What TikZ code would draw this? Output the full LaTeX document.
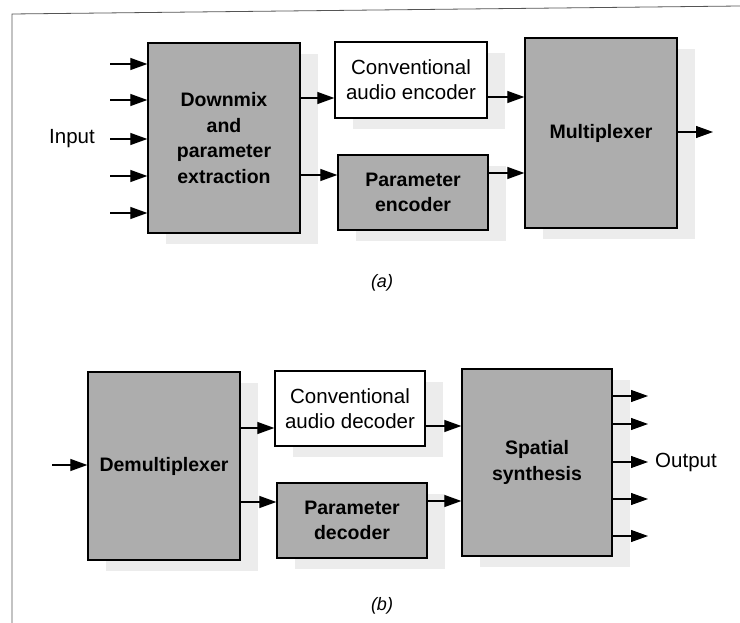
\documentclass[tikz,border=0pt]{standalone}
\usepackage{fontspec}
\setmainfont{Liberation Sans}
\usetikzlibrary{arrows.meta,shadows}
\definecolor{boxgray}{HTML}{ADADAD}
\definecolor{shadegray}{HTML}{ECECEC}
\definecolor{framegray}{HTML}{555555}
\tikzset{
  x=1pt, y=-1pt,
  blockbase/.style={draw=black, line width=1.3pt, rectangle, align=center, inner sep=2pt,
    font=\fontsize{20.5}{25}\selectfont,
    drop shadow={shadow xshift=18pt, shadow yshift=-11pt, fill=shadegray, opacity=1}},
  grayblock/.style={blockbase, fill=boxgray, font=\fontsize{19.5}{25.5}\selectfont\bfseries},
  whiteblock/.style={blockbase, fill=white},
  arr/.style={line width=1.1pt, -{Triangle[length=17pt,width=12pt]}},
  lbl/.style={font=\fontsize{20.5}{25}\selectfont, inner sep=0pt},
  captext/.style={font=\fontsize{18}{20}\selectfont\itshape, inner sep=0pt}
}
\begin{document}
\begin{tikzpicture}
\useasboundingbox (0,0) rectangle (740,623);
% outer frame (left and top edges)
\draw[framegray, line width=0.8pt] (12,623) -- (12,14) -- (740,6);

% ---------------- (a) encoder ----------------
\node[grayblock, minimum width=152pt, minimum height=190pt] (dmx) at (224,138)
  {Downmix\\and\\parameter\\extraction};
\node[whiteblock, minimum width=152pt, minimum height=76pt] (cenc) at (411,80)
  {Conventional\\audio encoder};
\node[grayblock, minimum width=150pt, minimum height=75pt] (penc) at (413,192.5)
  {Parameter\\encoder};
\node[grayblock, minimum width=152pt, minimum height=190pt] (mux) at (601,133)
  {Multiplexer};

\foreach \yy/\nm in {64/ia, 100/ib, 139/ic, 176/id, 213/ie}{
  \coordinate (\nm) at (110,\yy);
  \draw[arr] (\nm) -- (\nm -| dmx.west);
}
\node[lbl, anchor=east] (inlbl) at (95,139) {Input};

\draw[arr] (dmx.east |- 0,98) -- (cenc.west |- 0,98);
\draw[arr] (dmx.east |- 0,175) -- (penc.west |- 0,175);
\draw[arr] (cenc.east |- 0,97) -- (mux.west |- 0,97);
\draw[arr] (penc.east |- 0,173) -- (mux.west |- 0,173);
\coordinate (muxout) at (713,132);
\draw[arr] (mux.east |- muxout) -- (muxout);

\node[captext] (capa) at (382,283) {(a)};

% ---------------- (b) decoder ----------------
\node[grayblock, minimum width=152pt, minimum height=188pt] (demux) at (164,466)
  {Demultiplexer};
\node[whiteblock, minimum width=150pt, minimum height=75pt] (cdec) at (350,408.5)
  {Conventional\\audio decoder};
\node[grayblock, minimum width=150pt, minimum height=75pt] (pdec) at (352,520.5)
  {Parameter\\decoder};
\node[grayblock, minimum width=150pt, minimum height=187pt] (syn) at (537,462.5)
  {Spatial\\synthesis};

\coordinate (demuxin) at (52,465);
\draw[arr] (demuxin) -- (demuxin -| demux.west);
\draw[arr] (demux.east |- 0,428) -- (cdec.west |- 0,428);
\draw[arr] (demux.east |- 0,502) -- (pdec.west |- 0,502);
\draw[arr] (cdec.east |- 0,426) -- (syn.west |- 0,426);
\draw[arr] (pdec.east |- 0,501) -- (syn.west |- 0,501);

\foreach \yy/\nm in {396/oa, 424/ob, 462/oc, 499/od, 536/oe}{
  \coordinate (\nm) at (648,\yy);
  \draw[arr] (syn.east |- \nm) -- (\nm);
}
\node[lbl, anchor=west] (outlbl) at (655,462) {Output};

\node[captext] (capb) at (382,606) {(b)};
\end{tikzpicture}
\end{document}
